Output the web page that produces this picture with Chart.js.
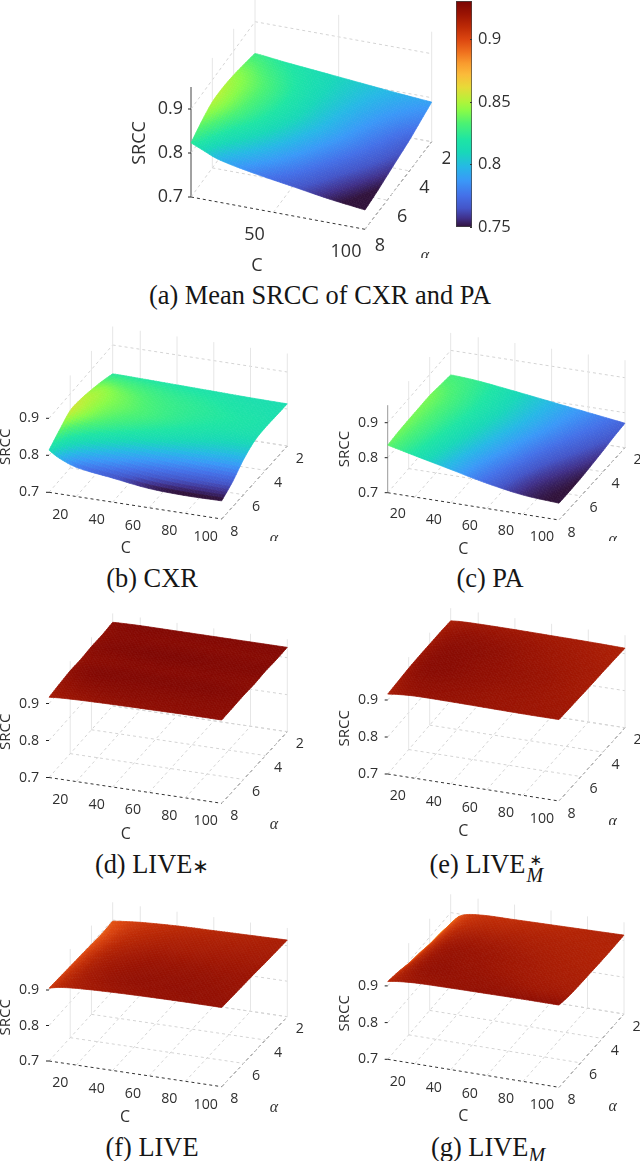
<!DOCTYPE html>
<html>
<head>
<meta charset="utf-8">
<title>SRCC surfaces</title>
<script src="https://cdn.jsdelivr.net/npm/chart.js@4"></script>
<style>
  html, body { margin: 0; padding: 0; background: #fff; }
  #page { position: relative; width: 640px; height: 1161px; overflow: hidden; }
  canvas { position: absolute; }
  .cap { position: absolute; transform: translateX(-50%); white-space: nowrap;
         font: 26.4px "Liberation Serif", serif; color: #161616; line-height: 28px; }
  .cap i { font-size: 20px; }
  .star { font-family: "DejaVu Sans"; font-size: 20px; }
  .stack { display: inline-block; position: relative; width: 21px; height: 10px; }
  .stack span, .stack i { position: absolute; }
</style>
</head>
<body>
<div id="page">
  <div class="cap" style="left:320px;top:281px">(a) Mean SRCC of CXR and PA</div>
  <div class="cap" style="left:152px;top:564px">(b) CXR</div>
  <div class="cap" style="left:490px;top:564px">(c) PA</div>
  <div class="cap" style="left:152px;top:850px">(d) LIVE<span class="star">∗</span></div>
  <div class="cap" style="left:488px;top:850px">(e) LIVE<span class="stack"><span class="star" style="left:4px;top:-17px;font-size:15px">∗</span><i style="left:1px;top:-2px">M</i></span></div>
  <div class="cap" style="left:152px;top:1133px">(f) LIVE</div>
  <div class="cap" style="left:488px;top:1133px">(g) LIVE<i style="position:relative;top:6px">M</i></div>
</div>
<script>
// rows follow alphaValues, columns follow cValues
const cValues = [5, 10, 20, 40, 60, 80, 100];
const alphaValues = [2, 3, 4, 5, 6, 7, 8];
const zTicks = [0.7, 0.8, 0.9];
const alphaTicks = [2, 4, 6, 8];
const cTicksShort = [50, 100];
const cTicksLong = [20, 40, 60, 80, 100];
const colorbarTicks = [0.75, 0.8, 0.85, 0.9];

const srccMean = [
  [0.828, 0.826, 0.821, 0.813, 0.805, 0.797, 0.79],
  [0.837, 0.835, 0.828, 0.815, 0.803, 0.791, 0.78],
  [0.845, 0.842, 0.834, 0.816, 0.8, 0.785, 0.77],
  [0.85, 0.845, 0.834, 0.814, 0.796, 0.779, 0.763],
  [0.85, 0.843, 0.829, 0.807, 0.788, 0.771, 0.756],
  [0.839, 0.831, 0.815, 0.795, 0.778, 0.762, 0.749],
  [0.823, 0.814, 0.797, 0.78, 0.767, 0.754, 0.744],
];
const srccCxr = [
  [0.822, 0.822, 0.821, 0.819, 0.817, 0.815, 0.814],
  [0.835, 0.835, 0.832, 0.826, 0.822, 0.818, 0.815],
  [0.845, 0.846, 0.84, 0.83, 0.824, 0.82, 0.816],
  [0.853, 0.849, 0.84, 0.83, 0.821, 0.815, 0.812],
  [0.855, 0.845, 0.832, 0.818, 0.808, 0.8, 0.795],
  [0.836, 0.823, 0.809, 0.793, 0.781, 0.773, 0.768],
  [0.814, 0.798, 0.779, 0.765, 0.752, 0.748, 0.749],
];
const srccPa = [
  [0.83, 0.829, 0.825, 0.812, 0.798, 0.784, 0.77],
  [0.835, 0.833, 0.827, 0.812, 0.796, 0.78, 0.766],
  [0.84, 0.836, 0.828, 0.811, 0.793, 0.775, 0.76],
  [0.84, 0.836, 0.827, 0.808, 0.788, 0.769, 0.755],
  [0.84, 0.835, 0.825, 0.804, 0.783, 0.763, 0.751],
  [0.839, 0.833, 0.822, 0.799, 0.777, 0.758, 0.749],
  [0.836, 0.83, 0.818, 0.795, 0.772, 0.755, 0.748],
];
const srccLiveStar = [
  [0.926, 0.927, 0.928, 0.928, 0.928, 0.928, 0.928],
  [0.924, 0.926, 0.927, 0.927, 0.927, 0.927, 0.927],
  [0.925, 0.927, 0.928, 0.929, 0.929, 0.928, 0.928],
  [0.923, 0.925, 0.926, 0.927, 0.927, 0.927, 0.926],
  [0.924, 0.926, 0.928, 0.928, 0.928, 0.928, 0.927],
  [0.921, 0.923, 0.925, 0.926, 0.926, 0.926, 0.926],
  [0.917, 0.919, 0.921, 0.923, 0.924, 0.925, 0.925],
];
const srccLiveStarM = [
  [0.916, 0.918, 0.919, 0.919, 0.918, 0.917, 0.915],
  [0.918, 0.921, 0.923, 0.922, 0.92, 0.918, 0.916],
  [0.919, 0.923, 0.925, 0.924, 0.921, 0.919, 0.917],
  [0.92, 0.924, 0.926, 0.924, 0.922, 0.92, 0.917],
  [0.92, 0.924, 0.926, 0.924, 0.922, 0.92, 0.918],
  [0.918, 0.922, 0.924, 0.923, 0.921, 0.92, 0.919],
  [0.916, 0.919, 0.922, 0.922, 0.921, 0.92, 0.92],
];
const srccLive = [
  [0.897, 0.9, 0.905, 0.91, 0.912, 0.914, 0.916],
  [0.895, 0.901, 0.908, 0.913, 0.915, 0.916, 0.917],
  [0.897, 0.903, 0.911, 0.916, 0.917, 0.918, 0.918],
  [0.899, 0.906, 0.914, 0.919, 0.92, 0.92, 0.92],
  [0.901, 0.908, 0.916, 0.921, 0.922, 0.922, 0.921],
  [0.903, 0.91, 0.917, 0.922, 0.923, 0.923, 0.922],
  [0.905, 0.911, 0.916, 0.92, 0.922, 0.923, 0.923],
];
const srccLiveM = [
  [0.869, 0.895, 0.906, 0.909, 0.911, 0.913, 0.915],
  [0.877, 0.899, 0.91, 0.913, 0.914, 0.914, 0.914],
  [0.881, 0.903, 0.915, 0.917, 0.916, 0.915, 0.914],
  [0.889, 0.907, 0.919, 0.92, 0.918, 0.916, 0.915],
  [0.895, 0.911, 0.921, 0.921, 0.919, 0.917, 0.916],
  [0.905, 0.915, 0.922, 0.922, 0.921, 0.919, 0.918],
  [0.912, 0.916, 0.92, 0.922, 0.923, 0.924, 0.924],
];

// colour bar
const cmapValues = [0.75, 0.757, 0.765, 0.775, 0.787, 0.798, 0.81, 0.82, 0.833, 0.843, 0.85, 0.862, 0.872, 0.881, 0.89, 0.9, 0.91, 0.92, 0.9308];
const cmapColors = ["#30123b", "#40308a", "#4455c8", "#4470e8", "#3a98f8", "#26b8e6", "#18d8b8", "#1ee5a4", "#4cf272", "#88fb48", "#b0f43a", "#e8da38", "#fbbb3a", "#f99b2e", "#ef701e", "#dc4610", "#bd2a06", "#9c1403", "#7a0403"];
const cmapRgb = cmapColors.map((h) => [1, 3, 5].map((i) => parseInt(h.slice(i, i + 2), 16)));

function valueColor(v) {
  const n = cmapValues.length;
  if (v <= cmapValues[0]) return cmapColors[0];
  if (v >= cmapValues[n - 1]) return cmapColors[n - 1];
  let i = 0;
  while (v > cmapValues[i + 1]) i++;
  const t = (v - cmapValues[i]) / (cmapValues[i + 1] - cmapValues[i]);
  const c = [0, 1, 2].map((k) => Math.round(cmapRgb[i][k] + (cmapRgb[i + 1][k] - cmapRgb[i][k]) * t));
  return `rgb(${c[0]},${c[1]},${c[2]})`;
}

// page layout of every panel: canvas box, floor corners, px per 0.1 of SRCC
const big = { tick: 18, title: 18, cTitle: 18 };
const small = { tick: 14.2, title: 15, cTitle: 16 };
const panels = [
  { values: srccMean, box: [125, 0, 325, 275], fl: [191, 197], fr: [365, 229.3], bl: [255, 109.7], br: [431.7, 141.7], z: 44,
    cTicks: cTicksShort, fonts: big, zAxis: "#444", zRight: 183, cOff: [-19, 23], aOff: [15, 17],
    cTitle: [257, 266], aTitle: [425, 256], aClip: 258, srcc: [140, 143] },
  { values: srccCxr, box: [0, 325, 320, 235], fl: [49, 492.3], fr: [221.7, 519], bl: [112.7, 419], br: [287.3, 446], z: 37,
    cTicks: cTicksLong, fonts: small, zAxis: null, zRight: 39, cOff: [-16, 18], aOff: [12.5, 12.5],
    cTitle: [125.7, 548], aTitle: [274, 539], aClip: 541, srcc: [6, 446.7] },
  { values: srccPa, box: [320, 325, 320, 235], fl: [387.7, 492.7], fr: [559, 520], bl: [450.7, 420.4], br: [625, 447.7], z: 35,
    cTicks: cTicksLong, fonts: small, zAxis: "#999", zRight: 378, cOff: [-17, 17], aOff: [12.5, 12.5],
    cTitle: [463.3, 549], aTitle: [612.7, 540], aClip: 541, srcc: [345, 449] },
  { values: srccLiveStar, box: [0, 605, 320, 240], fl: [49, 777.5], fr: [221.7, 803.3], bl: [112.7, 705.9], br: [287.3, 731.7], z: 37,
    cTicks: cTicksLong, fonts: small, zAxis: null, zRight: 39, cOff: [-16, 18], aOff: [12.5, 12.5],
    cTitle: [125.7, 834.3], aTitle: [274, 824.3], aClip: null, srcc: [6, 731.7] },
  { values: srccLiveStarM, box: [320, 600, 320, 245], fl: [387.7, 774], fr: [559, 801], bl: [450.7, 700.7], br: [625, 727.7], z: 37,
    cTicks: cTicksLong, fonts: small, zAxis: null, zRight: 378, cOff: [-17, 18], aOff: [12.5, 12.5],
    cTitle: [463.3, 831], aTitle: [612.7, 821.7], aClip: 825, srcc: [345, 728.3] },
  { values: srccLive, box: [0, 890, 320, 240], fl: [49, 1061], fr: [221.7, 1086.7], bl: [112.7, 991], br: [287.3, 1016.7], z: 35.5,
    cTicks: cTicksLong, fonts: small, zAxis: null, zRight: 39, cOff: [-16, 18], aOff: [12.5, 12.5],
    cTitle: [125, 1117.3], aTitle: [274, 1107.7], aClip: null, srcc: [6, 1017.3] },
  { values: srccLiveM, box: [320, 885, 320, 245], fl: [387.7, 1059.3], fr: [559, 1087.3], bl: [450.7, 986], br: [624, 1014], z: 36.7,
    cTicks: cTicksLong, fonts: small, zAxis: null, zRight: 378, cOff: [-17, 18], aOff: [12.5, 12.5],
    cTitle: [463.3, 1116.7], aTitle: [612.7, 1106.7], aClip: null, srcc: [345, 1013.3] },
];

const cMin = cValues[0];
const cMax = cValues[cValues.length - 1];
const alphaFront = 8;
const alphaBack = 2;
const zFloor = 0.7;
const zTop = 0.95;

function lerp(a, b, t) {
  return a + (b - a) * t;
}

function project(p, c, alpha, z) {
  const u = (c - cMin) / (cMax - cMin);
  const v = (alphaFront - alpha) / (alphaFront - alphaBack);
  const x = lerp(lerp(p.fl[0], p.fr[0], u), lerp(p.bl[0], p.br[0], u), v);
  const y = lerp(lerp(p.fl[1], p.fr[1], u), lerp(p.bl[1], p.br[1], u), v);
  return { x: x, y: y - ((z - zFloor) / 0.1) * p.z };
}

// smooth shading between the read values, only used while painting
function spline(xs, ys, x) {
  const n = xs.length;
  let i = 0;
  while (i < n - 2 && x > xs[i + 1]) i++;
  const slope = (k) => {
    const a = Math.max(k - 1, 0);
    const b = Math.min(k + 1, n - 1);
    return (ys[b] - ys[a]) / (xs[b] - xs[a]);
  };
  const h = xs[i + 1] - xs[i];
  const t = (x - xs[i]) / h;
  const t2 = t * t;
  const t3 = t2 * t;
  return (2 * t3 - 3 * t2 + 1) * ys[i] + (t3 - 2 * t2 + t) * h * slope(i) +
    (-2 * t3 + 3 * t2) * ys[i + 1] + (t3 - t2) * h * slope(i + 1);
}

function gridLine(from, to, color, dash) {
  return {
    type: "scatter",
    data: [from, to],
    showLine: true,
    pointRadius: 0,
    borderWidth: 1,
    borderColor: color,
    borderDash: dash,
  };
}

function panelDatasets(p) {
  const sets = [];
  const light = "#d4d4d4";
  const wall = "#e6e6e6";
  p.cTicks.forEach((c) => {
    sets.push(gridLine(project(p, c, alphaFront, zFloor), project(p, c, alphaBack, zFloor), light, [3, 3]));
    sets.push(gridLine(project(p, c, alphaBack, zFloor), project(p, c, alphaBack, zTop), wall, []));
  });
  alphaTicks.forEach((a) => {
    sets.push(gridLine(project(p, cMin, a, zFloor), project(p, cMax, a, zFloor), a === alphaFront ? "#333" : light, [3, 3]));
    if (a !== alphaFront) {
      sets.push(gridLine(project(p, cMin, a, zFloor), project(p, cMin, a, zTop), wall, []));
    }
  });
  zTicks.forEach((z) => {
    sets.push(gridLine(project(p, cMin, alphaFront, z), project(p, cMin, alphaBack, z), light, [3, 3]));
    sets.push(gridLine(project(p, cMin, alphaBack, z), project(p, cMax, alphaBack, z), light, [3, 3]));
  });
  sets.push(gridLine(project(p, cMax, alphaFront, zFloor), project(p, cMax, alphaBack, zFloor), "#333", [3, 3]));
  if (p.zAxis) {
    sets.push(gridLine(project(p, cMin, alphaFront, zFloor), project(p, cMin, alphaFront, zTop), p.zAxis, []));
  }
  // surface nodes, the plugin below paints the cells around them
  const nodes = [];
  alphaValues.forEach((a, i) => {
    cValues.forEach((c, j) => nodes.push(project(p, c, a, p.values[i][j])));
  });
  sets.push({ type: "scatter", label: "surface", data: nodes, showLine: false, pointRadius: 0 });
  return sets;
}

function paintSurface(chart, p) {
  const ctx = chart.ctx;
  const sx = chart.scales.x;
  const sy = chart.scales.y;
  const cSteps = 64;
  const aSteps = 40;
  const verts = [];
  for (let a = 0; a <= aSteps; a++) verts.push([]);
  for (let j = 0; j <= cSteps; j++) {
    const c = lerp(cMin, cMax, j / cSteps);
    const column = p.values.map((row) => spline(cValues, row, c));
    for (let i = 0; i <= aSteps; i++) {
      const alpha = lerp(alphaBack, alphaFront, i / aSteps);
      const v = spline(alphaValues, column, alpha);
      const pt = project(p, c, alpha, v);
      verts[i].push({ x: sx.getPixelForValue(pt.x), y: sy.getPixelForValue(pt.y), v: v });
    }
  }
  ctx.save();
  ctx.lineWidth = 0.7;
  for (let i = 0; i < aSteps; i++) {
    for (let j = 0; j < cSteps; j++) {
      const q = [verts[i][j], verts[i][j + 1], verts[i + 1][j + 1], verts[i + 1][j]];
      const col = valueColor((q[0].v + q[1].v + q[2].v + q[3].v) / 4);
      ctx.beginPath();
      ctx.moveTo(q[0].x, q[0].y);
      ctx.lineTo(q[1].x, q[1].y);
      ctx.lineTo(q[2].x, q[2].y);
      ctx.lineTo(q[3].x, q[3].y);
      ctx.closePath();
      ctx.fillStyle = col;
      ctx.strokeStyle = col;
      ctx.fill();
      ctx.stroke();
    }
  }
  ctx.restore();
}

function paintLabels(chart, p) {
  const ctx = chart.ctx;
  const sx = chart.scales.x;
  const sy = chart.scales.y;
  const px = (pt) => ({ x: sx.getPixelForValue(pt.x), y: sy.getPixelForValue(pt.y) });
  ctx.save();
  ctx.fillStyle = "#303030";
  ctx.strokeStyle = "#222";
  ctx.lineWidth = 1;
  ctx.textBaseline = "middle";
  ctx.textAlign = "center";
  ctx.font = `${p.fonts.tick}px "Open Sans"`;
  p.cTicks.forEach((c) => {
    const t = px(project(p, c, alphaFront, zFloor));
    ctx.fillText(String(c), t.x + p.cOff[0], t.y + p.cOff[1]);
  });
  alphaTicks.forEach((a) => {
    const t = px(project(p, cMax, a, zFloor));
    ctx.fillText(String(a), t.x + p.aOff[0], t.y + p.aOff[1]);
  });
  zTicks.forEach((z) => {
    const t = px(project(p, cMin, alphaFront, z));
    ctx.textAlign = "right";
    ctx.fillText(z.toFixed(1), sx.getPixelForValue(p.zRight), t.y);
    ctx.beginPath();
    ctx.moveTo(t.x - 3, t.y);
    ctx.lineTo(t.x, t.y);
    ctx.stroke();
  });
  ctx.textAlign = "center";
  ctx.font = `${p.fonts.cTitle}px "Open Sans"`;
  ctx.fillText("C", sx.getPixelForValue(p.cTitle[0]), sy.getPixelForValue(p.cTitle[1]));

  ctx.save();
  ctx.translate(sx.getPixelForValue(p.srcc[0]), sy.getPixelForValue(p.srcc[1]));
  ctx.rotate(-Math.PI / 2);
  ctx.font = `${p.fonts.title}px "Open Sans"`;
  ctx.fillText("SRCC", 0, 0);
  ctx.restore();

  ctx.save();
  if (p.aClip) {
    ctx.beginPath();
    ctx.rect(0, 0, chart.width, sy.getPixelForValue(p.aClip));
    ctx.clip();
  }
  ctx.font = 'italic 16px "Liberation Serif"';
  ctx.fillText("α", sx.getPixelForValue(p.aTitle[0]), sy.getPixelForValue(p.aTitle[1]));
  ctx.restore();
  ctx.restore();
}

function addCanvas(left, top, w, h) {
  const cv = document.createElement("canvas");
  cv.width = w;
  cv.height = h;
  cv.style.left = left + "px";
  cv.style.top = top + "px";
  cv.style.width = w + "px";
  cv.style.height = h + "px";
  document.getElementById("page").appendChild(cv);
  return cv;
}

panels.forEach((p) => {
  const [left, top, w, h] = p.box;
  const cv = addCanvas(left, top, w, h);
  const surfacePlugin = {
    id: "surface",
    afterDatasetsDraw: (chart) => {
      paintSurface(chart, p);
      paintLabels(chart, p);
    },
  };
  new Chart(cv.getContext("2d"), {
    type: "scatter",
    plugins: [surfacePlugin],
    data: { datasets: panelDatasets(p) },
    options: {
      responsive: false,
      animation: false,
      events: [],
      layout: { padding: 0 },
      plugins: { legend: { display: false }, tooltip: { enabled: false } },
      scales: {
        x: { type: "linear", display: false, min: left, max: left + w },
        y: { type: "linear", display: false, min: top, max: top + h, reverse: true },
      },
    },
  });
});

// colour bar
const barMin = cmapValues[0];
const barMax = cmapValues[cmapValues.length - 1];
const barCanvas = addCanvas(455, 0, 80, 240);
const barTicksPlugin = {
  id: "barTicks",
  afterDatasetsDraw: (chart) => {
    const ctx = chart.ctx;
    const area = chart.chartArea;
    ctx.save();
    ctx.strokeStyle = "#333";
    colorbarTicks.forEach((v) => {
      const y = Math.round(chart.scales.y.getPixelForValue(v)) + 0.5;
      ctx.beginPath();
      ctx.moveTo(area.right - 2, y);
      ctx.lineTo(area.right, y);
      ctx.stroke();
    });
    ctx.restore();
  },
};
new Chart(barCanvas.getContext("2d"), {
  type: "bar",
  plugins: [barTicksPlugin],
  data: {
    labels: ["SRCC"],
    datasets: [{
      data: [[barMin, barMax]],
      barPercentage: 1,
      categoryPercentage: 1,
      borderWidth: 1,
      borderSkipped: false,
      borderColor: "#444",
      backgroundColor: (ctx) => {
        const area = ctx.chart.chartArea;
        if (!area) return cmapColors[0];
        const g = ctx.chart.ctx.createLinearGradient(0, area.bottom, 0, area.top);
        cmapValues.forEach((v, i) => g.addColorStop((v - barMin) / (barMax - barMin), cmapColors[i]));
        return g;
      },
    }],
  },
  options: {
    responsive: false,
    animation: false,
    events: [],
    layout: { padding: { top: 1, bottom: 13, left: 1 } },
    plugins: { legend: { display: false }, tooltip: { enabled: false } },
    scales: {
      x: { display: false },
      y: {
        position: "right",
        min: barMin,
        max: barMax,
        afterBuildTicks: (axis) => {
          axis.ticks = colorbarTicks.map((v) => ({ value: v }));
        },
        afterFit: (axis) => {
          axis.width = 63;
          axis.paddingTop = 0;
          axis.paddingBottom = 0;
        },
        grid: { display: false, drawTicks: false },
        border: { display: false },
        ticks: {
          color: "#303030",
          padding: 6,
          font: { family: "Open Sans", size: 16.5 },
          autoSkip: false,
          callback: (v) => String(v),
        },
      },
    },
  },
});
</script>
</body>
</html>
